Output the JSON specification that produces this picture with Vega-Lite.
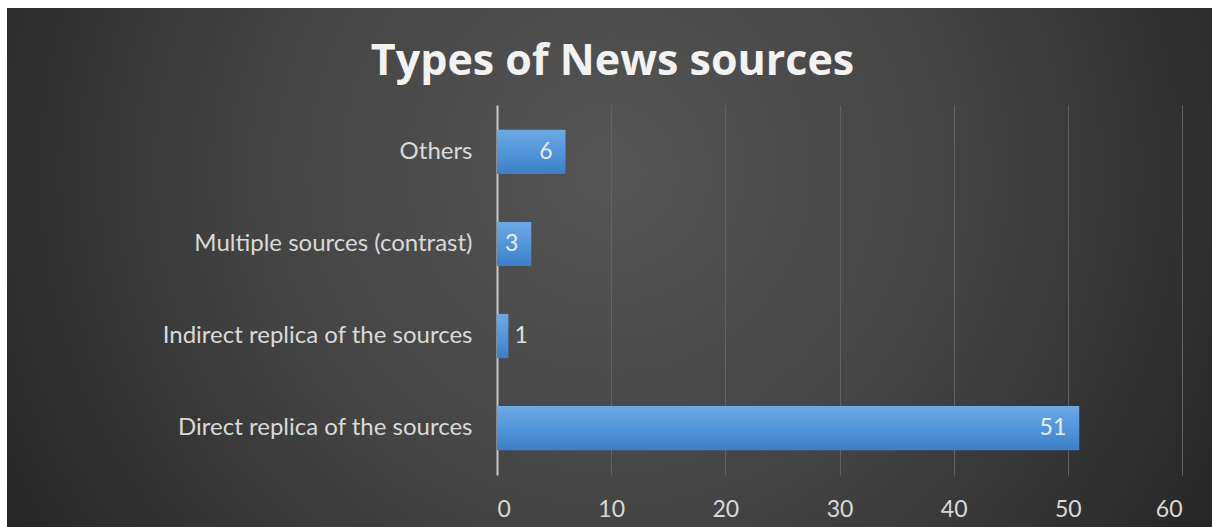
{
  "$schema": "https://vega.github.io/schema/vega-lite/v6.json",
  "width": 1205,
  "height": 519,
  "autosize": {"type": "none"},
  "padding": {"left": 7, "top": 8, "right": 0, "bottom": 0},
  "background": "#ffffff",
  "view": {
    "stroke": null,
    "fill": {
      "gradient": "radial",
      "x1": 0.5, "y1": 0.42, "r1": 0,
      "x2": 0.5, "y2": 0.42, "r2": 0.58,
      "stops": [
        {"offset": 0, "color": "#555555"},
        {"offset": 0.5, "color": "#444444"},
        {"offset": 1, "color": "#262626"}
      ]
    }
  },
  "title": {
    "text": "Types of News sources",
    "anchor": "middle",
    "frame": "group",
    "offset": -76,
    "dx": 3,
    "font": "Open Sans",
    "fontSize": 43,
    "fontWeight": "bold",
    "color": "#f2f2f2"
  },
  "data": {
    "values": [
      {"type": "Others", "count": 6},
      {"type": "Multiple sources (contrast)", "count": 3},
      {"type": "Indirect replica of the sources", "count": 1},
      {"type": "Direct replica of the sources", "count": 51}
    ]
  },
  "encoding": {
    "y": {
      "field": "type",
      "type": "nominal",
      "sort": ["Others", "Multiple sources (contrast)", "Indirect replica of the sources", "Direct replica of the sources"],
      "scale": {"range": [97, 467], "paddingInner": 0.52, "paddingOuter": 0.27},
      "axis": {
        "title": null,
        "offset": -490,
        "ticks": false,
        "domainColor": "#c8c8c8",
        "domainWidth": 2,
        "labelPadding": 25,
        "labelLimit": 0,
        "labelFont": "Lato",
        "labelFontSize": 24,
        "labelColor": "#d9d9d9",
        "grid": false
      }
    },
    "x": {
      "field": "count",
      "type": "quantitative",
      "scale": {"domain": [0, 60], "range": [490, 1175], "nice": false}
    }
  },
  "resolve": {"axis": {"x": "independent"}},
  "layer": [
    {
      "mark": {
        "type": "bar",
        "color": {
          "gradient": "linear",
          "x1": 0, "y1": 0, "x2": 0, "y2": 1,
          "stops": [
            {"offset": 0, "color": "#6ea9e4"},
            {"offset": 0.5, "color": "#5296da"},
            {"offset": 1, "color": "#3d7fc7"}
          ]
        }
      },
      "encoding": {
        "x": {
          "field": "count",
          "type": "quantitative",
          "axis": {
            "title": null,
            "orient": "top",
            "values": [0, 10, 20, 30, 40, 50, 60],
            "domain": false,
            "ticks": false,
            "labels": false,
            "grid": true,
            "gridColor": "#626262",
            "gridWidth": 1
          }
        }
      }
    },
    {
      "transform": [{"filter": "datum.count >= 3"}],
      "mark": {"type": "text", "align": "right", "baseline": "middle", "dx": -13, "font": "Lato", "fontSize": 23, "color": "#e8eef6"},
      "encoding": {
        "text": {"field": "count", "type": "quantitative"},
        "x": {
          "field": "count",
          "type": "quantitative",
          "axis": {
            "title": null,
            "orient": "bottom",
            "values": [0, 10, 20, 30, 40, 50, 60],
            "domain": false,
            "ticks": false,
            "grid": false,
            "labelPadding": -29,
            "labelFont": "Lato",
            "labelFontSize": 23,
            "labelColor": "#d9d9d9"
          }
        }
      }
    },
    {
      "transform": [{"filter": "datum.count < 3"}],
      "mark": {"type": "text", "align": "left", "baseline": "middle", "dx": 6, "font": "Lato", "fontSize": 23, "color": "#e0e0e0"},
      "encoding": {
        "text": {"field": "count", "type": "quantitative"},
        "x": {"field": "count", "type": "quantitative", "axis": null}
      }
    }
  ]
}
